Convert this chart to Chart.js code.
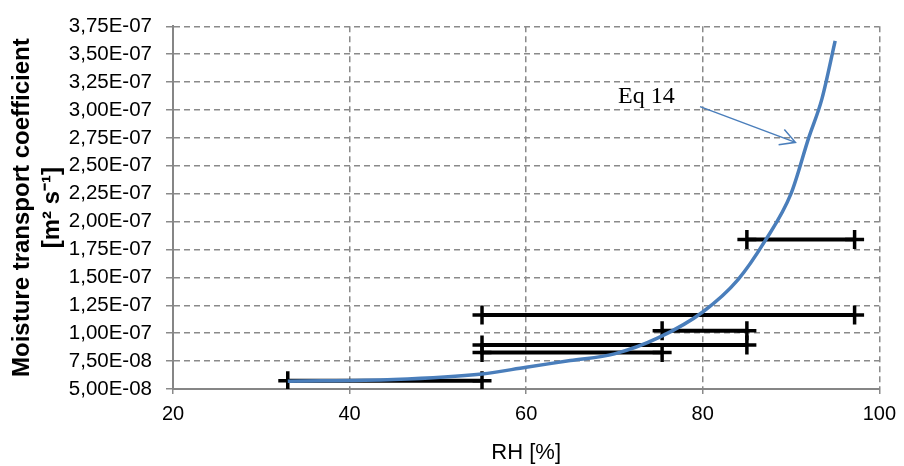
<!DOCTYPE html>
<html>
<head>
<meta charset="utf-8">
<script src="https://cdn.jsdelivr.net/npm/chart.js@4.4.1/dist/chart.umd.min.js"></script>
<style>
  html, body { margin: 0; padding: 0; background: #fff; }
  #wrap { width: 904px; height: 466px; }
</style>
</head>
<body>
<div id="wrap"><canvas id="chart" width="904" height="466"></canvas></div>
<script>
// axis ticks
const rhTicks = [20, 40, 60, 80, 100];
const coefTicks = [5.0e-8, 7.5e-8, 1.0e-7, 1.25e-7, 1.5e-7, 1.75e-7, 2.0e-7,
                   2.25e-7, 2.5e-7, 2.75e-7, 3.0e-7, 3.25e-7, 3.5e-7, 3.75e-7];

// Eq 14 curve
const eqRH   = [33, 45, 55, 60, 65, 70, 75, 80, 84, 87, 90, 92, 93.5, 95];
const eqCoef = [5.7e-8, 5.85e-8, 6.35e-8, 6.95e-8, 7.55e-8, 8.15e-8, 9.6e-8,
                1.19e-7, 1.48e-7, 1.82e-7, 2.25e-7, 2.75e-7, 3.1e-7, 3.62e-7];

// measured ranges (RH from - to)
const rangeLow  = [33, 55, 55, 75.4, 55, 85];
const rangeHigh = [55, 85, 75.4, 85, 97.2, 97.2];
const rangeCoef = [5.73e-8, 8.94e-8, 8.27e-8, 1.023e-7, 1.163e-7, 1.84e-7];

// annotation
const eqLabel = 'Eq 14';
const labelAt = { x: 70.4, y: 3.067e-7 };
const arrowFrom = { x: 79.7, y: 3.03e-7 };
const arrowTo = { x: 90.5, y: 2.71e-7 };

const BLUE = '#4a7ebb';
const GRID = '#8a8a8a';

function fmtExp(v) {
    const [m, e] = v.toExponential(2).split('e');
    const n = parseInt(e, 10);
    const ex = (n < 0 ? '-' : '+') + String(Math.abs(n)).padStart(2, '0');
    return m.replace('.', ',') + 'E' + ex;
}

const datasets = [{
    data: eqRH.map((x, i) => ({ x, y: eqCoef[i] })),
    borderColor: BLUE,
    borderWidth: 3.5,
    pointRadius: 0,
    showLine: true,
    cubicInterpolationMode: 'monotone'
}];

rangeCoef.forEach((c, i) => {
    datasets.push({
        data: [{ x: rangeLow[i], y: c }, { x: rangeHigh[i], y: c }],
        borderColor: '#000',
        borderWidth: 4,
        showLine: true,
        pointStyle: 'cross',
        pointRadius: 9.5,
        pointBorderWidth: 3.5,
        pointBorderColor: '#000'
    });
});

// text + arrow for Eq 14
const annotate = {
    id: 'annotate',
    afterDatasetsDraw(chart) {
        const { ctx, scales: { x, y } } = chart;
        ctx.save();
        ctx.font = '24px "Liberation Serif", serif';
        ctx.fillStyle = '#000';
        ctx.textBaseline = 'alphabetic';
        ctx.fillText(eqLabel, x.getPixelForValue(labelAt.x), y.getPixelForValue(labelAt.y));

        const x1 = x.getPixelForValue(arrowFrom.x), y1 = y.getPixelForValue(arrowFrom.y);
        const x2 = x.getPixelForValue(arrowTo.x), y2 = y.getPixelForValue(arrowTo.y);
        ctx.strokeStyle = BLUE;
        ctx.lineWidth = 1.5;
        ctx.beginPath();
        ctx.moveTo(x1, y1);
        ctx.lineTo(x2, y2);
        const ang = Math.atan2(y2 - y1, x2 - x1);
        const len = 17;
        ctx.moveTo(x2 - len * Math.cos(ang - 0.5), y2 - len * Math.sin(ang - 0.5));
        ctx.lineTo(x2, y2);
        ctx.lineTo(x2 - len * Math.cos(ang + 0.5), y2 - len * Math.sin(ang + 0.5));
        ctx.stroke();
        ctx.restore();
    }
};

new Chart(document.getElementById('chart'), {
    type: 'scatter',
    data: { datasets },
    options: {
        responsive: false,
        animation: false,
        layout: { padding: { top: 18, right: 23, left: 0, bottom: 0 } },
        plugins: { legend: { display: false }, tooltip: { enabled: false } },
        scales: {
            x: {
                type: 'linear',
                min: 20,
                max: 100,
                afterBuildTicks: s => { s.ticks = rhTicks.map(v => ({ value: v })); },
                afterFit: s => { s.height = 77; },
                ticks: {
                    color: '#000',
                    font: { family: '"Liberation Sans", Arial, sans-serif', size: 20 },
                    padding: 8,
                    maxRotation: 0,
                    callback: v => String(v)
                },
                grid: { color: GRID, lineWidth: 1.5, tickLength: 5, tickColor: GRID, tickWidth: 1.5 },
                border: { color: '#868686', width: 2, dash: [6, 4] },
                title: {
                    display: true,
                    text: 'RH [%]',
                    color: '#000',
                    font: { family: '"Liberation Sans", Arial, sans-serif', size: 22 },
                    padding: { top: 0, bottom: 0 }
                }
            },
            y: {
                type: 'linear',
                min: 5.0e-8,
                max: 3.75e-7,
                afterBuildTicks: s => { s.ticks = coefTicks.map(v => ({ value: v })); },
                afterFit: s => { s.width = 173; },
                ticks: {
                    color: '#000',
                    font: { family: '"Liberation Sans", Arial, sans-serif', size: 20.5 },
                    padding: 14,
                    callback: v => fmtExp(v)
                },
                grid: { color: GRID, lineWidth: 1.5, tickLength: 7, tickColor: GRID, tickWidth: 1.5 },
                border: { color: '#868686', width: 2, dash: [6, 4] },
                title: {
                    display: true,
                    text: ['Moisture transport coefficient', '[m\u00b2 s\u207b\u00b9]'],
                    color: '#000',
                    font: { family: '"Liberation Sans", Arial, sans-serif', size: 24, weight: 'bold', lineHeight: 1.25 },
                    padding: { top: 7, bottom: 0 }
                }
            }
        }
    },
    plugins: [annotate]
});
</script>
</body>
</html>
